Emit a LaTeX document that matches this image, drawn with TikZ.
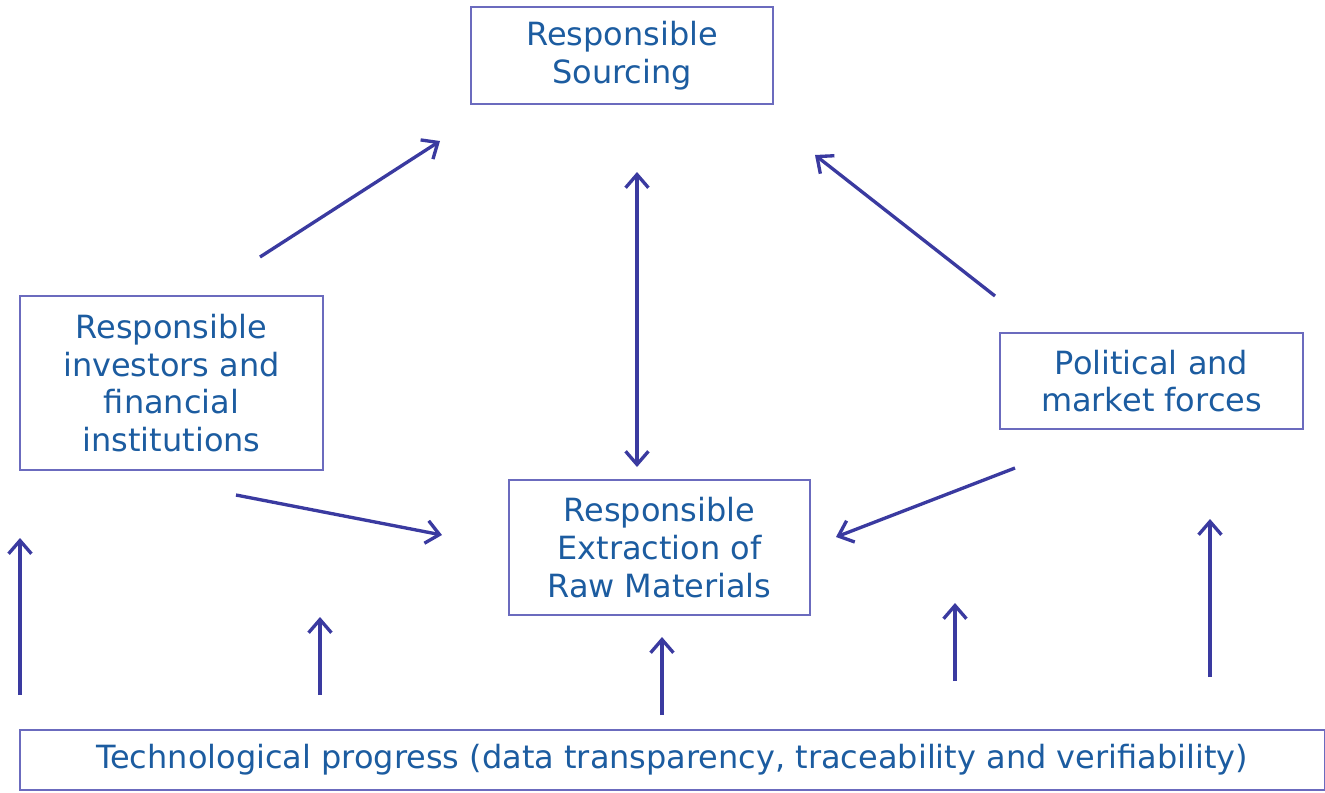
\documentclass[tikz,border=0pt]{standalone}
\usepackage{fontspec}
\setmainfont{DejaVu Sans}
\usetikzlibrary{arrows.meta}
\definecolor{boxline}{HTML}{6B6BBE}
\definecolor{textblue}{HTML}{1C5CA0}
\definecolor{arrowblue}{HTML}{3A3AA0}

\tikzset{
    factor/.style={draw=boxline, line width=1pt, text=textblue, align=center,
                   font=\fontsize{18.2}{21.5}\selectfont, inner sep=0pt},
    barb/.tip={Straight Barb[length=7.5pt,width=13pt,line width=1.9pt]},
    push/.style={draw=arrowblue, line width=1.9pt, -barb}
}

\begin{document}
\begin{tikzpicture}[x=0.02cm,y=-0.02cm]
    \useasboundingbox (0,0) rectangle (1325,792);

    \node [factor, minimum width=6.04cm, minimum height=1.94cm] (sourcing)   at (622,55.5)   {Responsible\\Sourcing};
    \node [factor, minimum width=6.06cm, minimum height=3.48cm] (investors)  at (171.5,383)  {Responsible\\investors and\\financial\\institutions};
    \node [factor, minimum width=6.06cm, minimum height=1.92cm] (political)  at (1151.5,381) {Political and\\market forces};
    \node [factor, minimum width=6.02cm, minimum height=2.70cm] (extraction) at (659.5,547.5) {Responsible\\Extraction of\\Raw Materials};
    \node [factor, minimum width=26.1cm, minimum height=1.20cm] (tech)       at (672,760)    {Technological progress (data transparency, traceability and verifiability)};

    % free ends of the arrows
    \coordinate (a1) at (260,257);  \coordinate (b1) at (440,141);
    \coordinate (a2) at (637,467);  \coordinate (b2) at (637,172);
    \coordinate (a3) at (995,296);  \coordinate (b3) at (815,155);
    \coordinate (a4) at (236,495);  \coordinate (b4) at (442,535);
    \coordinate (a5) at (1015,468); \coordinate (b5) at (836,537);

    \draw [push] (a1) -- (b1);
    \draw [push, barb-barb] (a2) -- (b2);
    \draw [push] (a3) -- (b3);
    \draw [push] (a4) -- (b4);
    \draw [push] (a5) -- (b5);

    % upward arrows from the technology bar
    \foreach \x/\from/\to in {20/695/538, 320/695/617, 662/715/637, 955/681/603, 1210/677/519}
        \draw [push] (\x,\from) -- (\x,\to);
\end{tikzpicture}
\end{document}
